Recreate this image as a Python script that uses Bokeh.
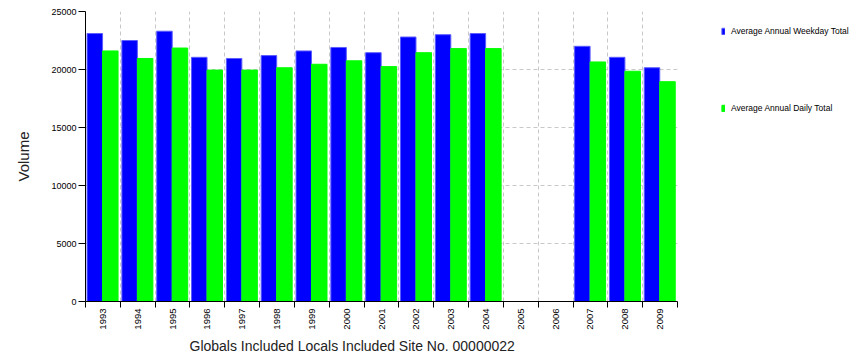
import math
from bokeh.plotting import figure
from bokeh.models import ColumnDataSource, Range1d, FixedTicker, Legend, LegendItem, Title
from bokeh.embed import file_html
from bokeh.resources import INLINE

# ---- data ----
years = ["1993", "1994", "1995", "1996", "1997", "1998", "1999", "2000", "2001",
         "2002", "2003", "2004", "2005", "2006", "2007", "2008", "2009"]
weekday_total = [23100, 22500, 23300, 21050, 20950, 21200, 21600, 21900, 21450,
                 22800, 23000, 23100, None, None, 22000, 21050, 20150]
daily_total = [21600, 20950, 21850, 19950, 19950, 20150, 20450, 20750, 20250,
               21450, 21800, 21800, None, None, 20650, 19850, 18950]
y_ticks = [0, 5000, 10000, 15000, 20000, 25000]
series_names = ["Average Annual Weekday Total", "Average Annual Daily Total"]
x_title = "Globals Included Locals Included  Site No. 00000022"
y_title = "Volume"

FONT = "Liberation Sans"

def src(vals, off):
    xs, tops = [], []
    for i, v in enumerate(vals):
        if v is not None:
            xs.append(i + off)
            tops.append(v)
    return ColumnDataSource(dict(x=xs, top=tops))

p = figure(frame_width=592, frame_height=290,
           min_border_left=85, min_border_right=185, min_border_top=11, min_border_bottom=60,
           x_range=Range1d(0, len(years)), y_range=Range1d(0, 25000),
           output_backend="svg", toolbar_location=None, tools="")
p.outline_line_color = None
p.background_fill_color = "white"
p.border_fill_color = "white"

bw = 0.445
r1 = p.vbar(x="x", top="top", bottom=0, width=bw, source=src(weekday_total, 0.2675),
            fill_color="#0000ff", line_color="#5c5cff", line_width=1)
r2 = p.vbar(x="x", top="top", bottom=0, width=bw, source=src(daily_total, 0.7125),
            fill_color="#00ff00", line_color="#00ff00", line_width=1)

# x axis: labels at centers, ticks at boundaries
centers = [i + 0.5 for i in range(len(years))]
bounds = list(range(len(years) + 1))
p.xaxis.ticker = FixedTicker(ticks=centers, minor_ticks=bounds)
p.xaxis.major_label_overrides = {c: y for c, y in zip(centers, years)}
p.xaxis.major_label_orientation = math.pi / 2
p.xaxis.major_tick_line_color = None
p.xaxis.major_tick_in = 0
p.xaxis.major_tick_out = 0
p.xaxis.minor_tick_in = 0
p.xaxis.minor_tick_out = 6
p.xaxis.minor_tick_line_color = "black"
p.xaxis.major_label_standoff = 1

p.yaxis.ticker = FixedTicker(ticks=y_ticks)
p.yaxis.minor_tick_line_color = None
p.yaxis.major_tick_in = 0
p.yaxis.major_tick_out = 7
p.yaxis.major_label_standoff = 2
p.yaxis.axis_label = y_title
p.yaxis.axis_label_standoff = 16

for ax in (p.xaxis[0], p.yaxis[0]):
    ax.axis_line_color = "black"
    ax.axis_line_width = 1
    ax.major_label_text_font = FONT
    ax.major_label_text_font_size = "9px"
    ax.major_label_text_color = "black"
    ax.axis_label_text_font = FONT
    ax.axis_label_text_font_style = "normal"
    ax.axis_label_text_color = "#222222"
p.yaxis.axis_label_text_font_size = "15px"
p.xaxis.major_label_text_font_size = "9.5px"

xt = Title(text=x_title, align="left", offset=104, standoff=6,
           text_font=FONT, text_font_size="14px", text_font_style="normal",
           text_color="#222222")
p.add_layout(xt, "below")

p.xgrid.ticker = FixedTicker(ticks=bounds)
for g in (p.xgrid[0], p.ygrid[0]):
    g.grid_line_color = "#c8c8c8"
    g.grid_line_dash = "4 3"
    g.grid_line_width = 1

legend = Legend(items=[LegendItem(label=series_names[0], renderers=[r1]),
                       LegendItem(label=series_names[1], renderers=[r2])],
                location=(44, 188), margin=0, padding=0,
                glyph_width=4, glyph_height=8, label_height=10, spacing=67,
                label_standoff=6, border_line_color=None, background_fill_alpha=0,
                label_text_font=FONT, label_text_font_size="8.5px", label_text_color="black")
p.add_layout(legend, "right")

open("out.html", "w").write(file_html(p, INLINE))
